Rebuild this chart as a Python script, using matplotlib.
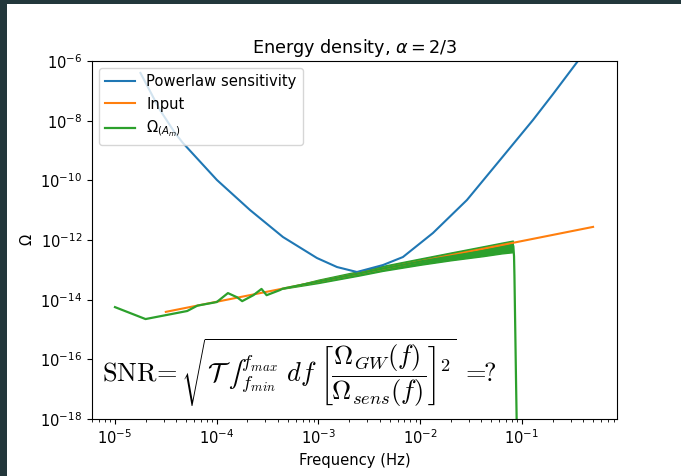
import numpy as np
import matplotlib
matplotlib.use("Agg")
import matplotlib.pyplot as plt
from matplotlib.patches import Rectangle

# Values (log10 of frequency and of Omega)

# powerlaw sensitivity curve
sens_logf = [-4.75, -4.558, -4.410, -4.332, -3.998, -3.673, -3.349, -3.015,
             -2.818, -2.622, -2.366, -2.170, -1.875, -1.541, -1.216, -0.892,
             -0.695, -0.450, -0.283]
sens_logo = [-6.4, -7.643, -8.414, -8.749, -9.989, -10.995, -11.90, -12.604,
             -12.906, -13.073, -12.839, -12.571, -11.766, -10.66, -9.319, -7.978,
             -7.11, -6.0, -5.25]

# input spectrum (straight power law, alpha = 2/3)
input_f = [3.16e-5, 0.50]
input_omega = [3.9e-15, 2.75e-12]

# reconstructed Omega_(A_m)
rec_logf = [-5.0, -4.70, -4.29, -4.19, -4.00, -3.89, -3.80, -3.75, -3.64,
            -3.56, -3.51, -3.38, -3.35, -3.0, -2.6, -2.37, -2.0, -1.7,
            -1.38, -1.2, -1.09, -1.085, -1.078, -1.074, -1.066, -1.058, -1.050]
rec_logo = [-14.25, -14.65, -14.38, -14.20, -14.08, -13.78, -13.92, -14.05,
            -13.85, -13.64, -13.85, -13.68, -13.63, -13.39, -13.12, -12.96,
            -12.72, -12.55, -12.37, -12.26, -12.18, -12.20, -12.55, -13.2,
            -15.0, -16.8, -18.5]

# spread of the noisy part of the reconstruction
band_logf = [-3.35, -3.0, -2.6, -2.37, -2.0, -1.7, -1.38, -1.2, -1.09]
band_hi = [-13.63, -13.33, -13.04, -12.87, -12.62, -12.42, -12.21, -12.09, -12.02]
band_lo = [-13.63, -13.44, -13.19, -13.035, -12.83, -12.68, -12.54, -12.45, -12.41]

plt.rcParams["font.size"] = 10.6

fig = plt.figure(figsize=(6.81, 4.76), dpi=100, facecolor="#22373b")
# white page with the dark frame showing at the top and left
fig.patches.append(Rectangle((7 / 681, 0), 1, 1 - 4 / 476, transform=fig.transFigure,
                             facecolor="white", edgecolor="none", zorder=-10))
ax = fig.add_axes([92 / 681, 57 / 476, 525 / 681, 358 / 476])
ax.set_zorder(1)

ax.loglog(10 ** np.array(sens_logf), 10 ** np.array(sens_logo), color="C0",
          lw=1.5, label="Powerlaw sensitivity")
ax.loglog(input_f, input_omega, color="C1", lw=1.5, label="Input")
ax.loglog(10 ** np.array(rec_logf), 10 ** np.array(rec_logo), color="C2",
          lw=1.6, label=r"$\Omega_{(A_m)}$")
ax.fill_between(10 ** np.array(band_logf), 10 ** np.array(band_lo),
                10 ** np.array(band_hi), color="C2", lw=1.0)

ax.set_xlim(10 ** -5.226, 10 ** -0.066)
ax.set_ylim(1e-18, 1e-6)
ax.set_xlabel("Frequency (Hz)")
ax.set_ylabel(r"$\Omega$")
ax.set_title(r"Energy density, $\alpha = 2/3$", fontsize=12.7)
ax.legend(loc="upper left")

snr_small = (r"$\mathrm{SNR}\!=\sqrt{\mathcal{T}\;∫_{f_{min}}^{f_{max}}\ df\;"
             r"\left[\dfrac{\Omega_{GW}(f)}{\Omega_{sens}(f)}\right]^2}\;=\!\!?$")
snr_plain = (r"$\mathrm{SNR}\!=\sqrt{\mathcal{T}\int{}_{f_{min}}^{f_{max}}df\,"
             r"\left[\dfrac{\Omega_{GW}(f)}{\Omega_{sens}(f)}\right]^2}\,=\!\!?$")
snr = ax.text(0.019, 0.10, snr_small, transform=ax.transAxes, fontsize=19,
              math_fontfamily="cm")
try:
    fig.canvas.draw()
except Exception:
    snr.set_text(snr_plain)

fig.savefig("out.png", dpi=100, facecolor=fig.get_facecolor())
